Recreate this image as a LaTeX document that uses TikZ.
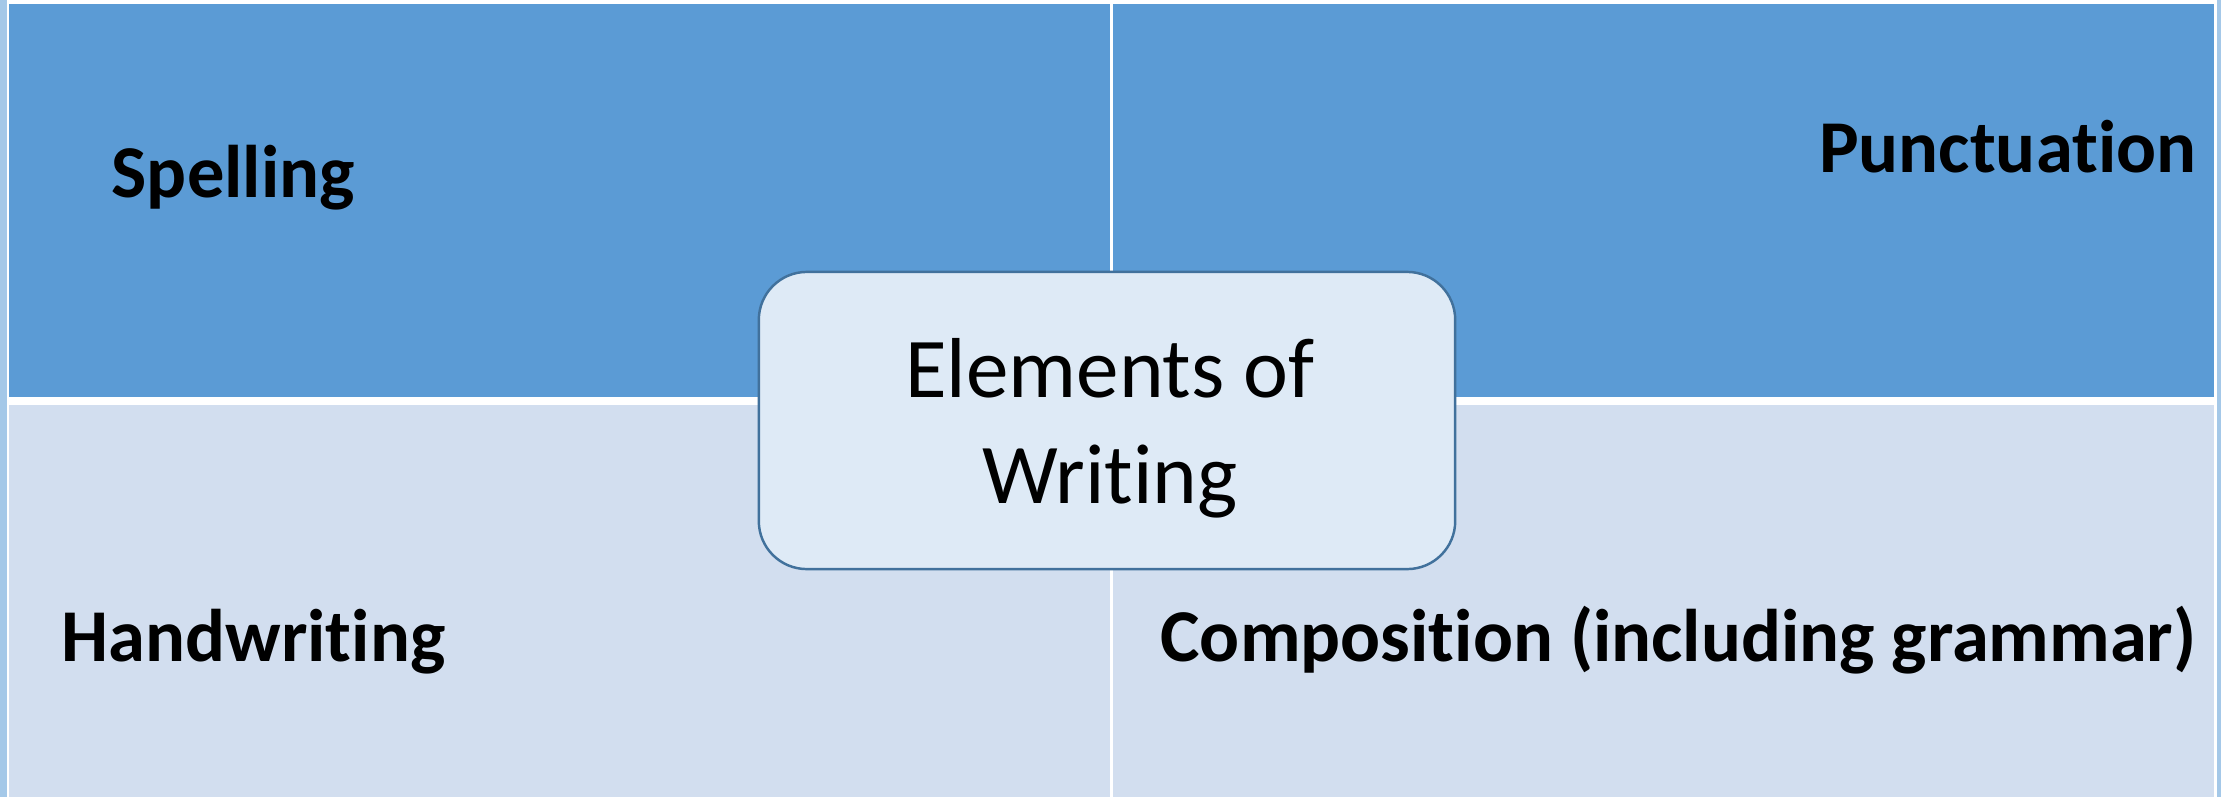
\documentclass[tikz,border=0pt]{standalone}
\usepackage{fontspec}
\setmainfont[Ligatures=NoCommon]{Carlito}
\definecolor{slideblue}{HTML}{A4C8E8}
\definecolor{headblue}{HTML}{5B9BD5}
\definecolor{bandblue}{HTML}{D2DEEF}
\definecolor{corefill}{HTML}{DEEAF6}
\definecolor{coreline}{HTML}{41719C}
\begin{document}
\begin{tikzpicture}[x=0.01cm, y=-0.01cm,
		celltext/.style={inner sep=0pt, font=\fontsize{21.2}{25}\selectfont\bfseries},
		corebox/.style={draw=coreline, fill=corefill, line width=0.7pt, rounded corners=0.48cm, minimum width=6.96cm, minimum height=2.97cm, inner sep=0pt}]
		\useasboundingbox (0,0) rectangle (2221,797);
		\fill[slideblue] (0,0) rectangle (2221,797);
		\fill[white] (7,0) rectangle (2216.5,797);

		\foreach \x/\w in {9/1110, 1113/2214} {
			\fill[headblue] (\x,3.5) rectangle (\w,397);
			\fill[bandblue] (\x,405) rectangle (\w,797);
		}

		\node[celltext, anchor=base west] (spelling) at (111,197) {Spelling};
		\node[celltext, anchor=base east] (punct) at (2197,172) {Punctuation};
		\node[celltext, anchor=base west] (hand) at (61,661) {Handwriting};
		\node[celltext, anchor=base east] (compo) at (2197,661) {Composition (including grammar)};

		\node[corebox] (core) at (1107,420.5) {};
		\node[align=center, inner sep=0pt, font=\fontsize{24.2}{30.16}\selectfont] (coretitle) at (1110,428.5) {Elements of\\Writing};
	\end{tikzpicture}
\end{document}
